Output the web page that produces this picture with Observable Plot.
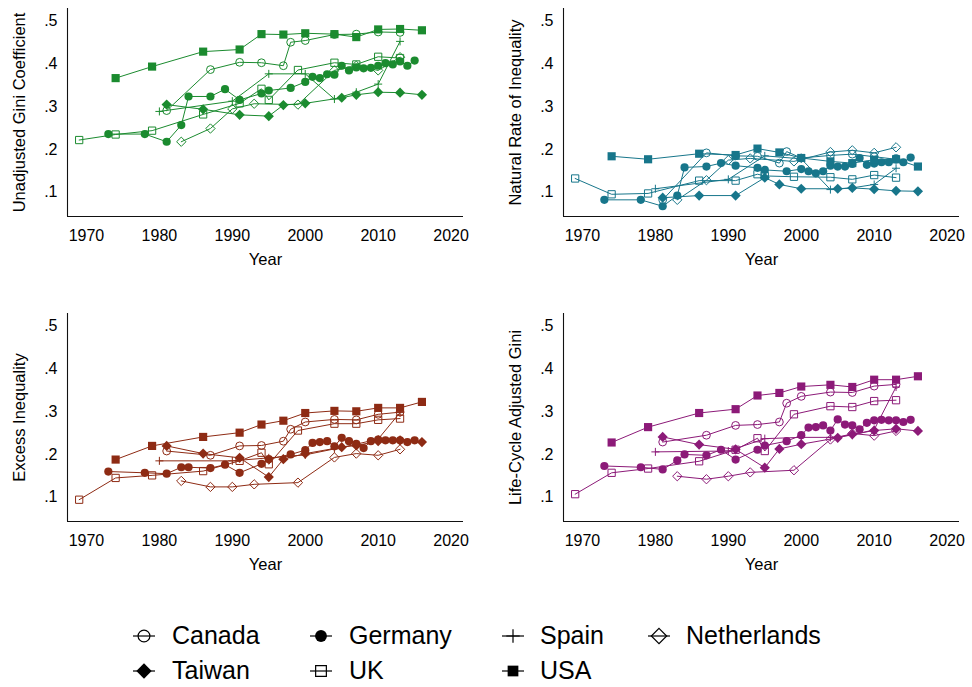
<!DOCTYPE html>
<html>
<head>
<meta charset="utf-8">
<script src="https://cdn.jsdelivr.net/npm/d3@7"></script>
<script src="https://cdn.jsdelivr.net/npm/@observablehq/plot@0.6"></script>
<style>
  body { margin: 0; background: #fff; }
  #root { position: relative; width: 972px; height: 687px; overflow: hidden;
          font-family: "Liberation Sans", Arial, Helvetica, sans-serif; color: #000; }
  .panel { position: absolute; }
  .legend-sym { position: absolute; }
  .legend-txt { position: absolute; font-size: 25px; line-height: 25px; white-space: nowrap; }
</style>
</head>
<body>
<div id="root"></div>
<script>
// ---------------- Data ----------------
const countries = ["Canada", "Germany", "Spain", "Netherlands", "Taiwan", "UK", "USA"];

const yearsCanada = [1981, 1987, 1991, 1994, 1997, 1998, 2000, 2004, 2007, 2010, 2013];
const giniCanada = [0.291, 0.387, 0.404, 0.403, 0.396, 0.451, 0.455, 0.469, 0.470, 0.475, 0.474];
const naturalCanada = [0.082, 0.192, 0.185, 0.184, 0.168, 0.195, 0.180, 0.186, 0.189, 0.183, 0.177];
const excessCanada = [0.208, 0.198, 0.220, 0.221, 0.231, 0.259, 0.276, 0.282, 0.281, 0.294, 0.299];
const lifecycleCanada = [0.229, 0.245, 0.268, 0.270, 0.276, 0.320, 0.336, 0.346, 0.345, 0.360, 0.364];

const yearsGermany = [1973, 1978, 1981, 1983, 1984, 1987, 1989, 1991, 1994, 1995, 1998, 2000, 2001, 2002, 2003,
  2004, 2005, 2006, 2007, 2008, 2009, 2010, 2011, 2012, 2013, 2014, 2015];
const giniGermany = [0.236, 0.236, 0.218, 0.257, 0.324, 0.324, 0.341, 0.316, 0.331, 0.338, 0.344, 0.358, 0.370, 0.367, 0.376,
  0.375, 0.396, 0.385, 0.392, 0.390, 0.391, 0.396, 0.402, 0.399, 0.406, 0.396, 0.408];
const naturalGermany = [0.082, 0.082, 0.067, 0.092, 0.158, 0.160, 0.168, 0.162, 0.157, 0.152, 0.149, 0.154, 0.149, 0.144, 0.149,
  0.162, 0.160, 0.160, 0.166, 0.180, 0.164, 0.167, 0.170, 0.170, 0.179, 0.170, 0.181];
const excessGermany = [0.160, 0.157, 0.155, 0.170, 0.170, 0.168, 0.176, 0.157, 0.178, 0.189, 0.200, 0.210, 0.227, 0.229, 0.231,
  0.219, 0.239, 0.231, 0.225, 0.215, 0.231, 0.235, 0.233, 0.233, 0.233, 0.229, 0.233];
const lifecycleGermany = [0.173, 0.170, 0.165, 0.186, 0.200, 0.198, 0.211, 0.188, 0.211, 0.221, 0.231, 0.245, 0.263, 0.264, 0.268,
  0.256, 0.282, 0.270, 0.268, 0.259, 0.274, 0.280, 0.281, 0.280, 0.280, 0.276, 0.281];

const yearsSpain = [1980, 1990, 1995, 2000, 2004, 2007, 2010, 2013];
const giniSpain = [0.289, 0.313, 0.377, 0.377, 0.318, 0.334, 0.353, 0.453];
const naturalSpain = [0.108, 0.130, 0.185, 0.178, 0.106, 0.110, 0.118, 0.156];
const excessSpain = [0.185, 0.185, 0.192, 0.199, 0.213, 0.224, 0.236, 0.298];
const lifecycleSpain = [0.206, 0.208, 0.237, 0.240, 0.240, 0.245, 0.258, 0.358];

const yearsNetherlands = [1983, 1987, 1990, 1993, 1999, 2004, 2007, 2010, 2013];
const giniNetherlands = [0.218, 0.249, 0.295, 0.307, 0.305, 0.385, 0.396, 0.385, 0.416];
const naturalNetherlands = [0.082, 0.128, 0.175, 0.179, 0.172, 0.194, 0.198, 0.192, 0.205];
const excessNetherlands = [0.138, 0.124, 0.124, 0.130, 0.134, 0.193, 0.202, 0.198, 0.212];
const lifecycleNetherlands = [0.149, 0.142, 0.149, 0.158, 0.163, 0.235, 0.249, 0.244, 0.255];

const yearsTaiwan = [1981, 1986, 1991, 1995, 1997, 2000, 2005, 2007, 2010, 2013, 2016];
const giniTaiwan = [0.305, 0.294, 0.281, 0.278, 0.304, 0.308, 0.321, 0.328, 0.334, 0.333, 0.328];
const naturalTaiwan = [0.087, 0.092, 0.092, 0.134, 0.118, 0.108, 0.108, 0.110, 0.107, 0.103, 0.102];
const excessTaiwan = [0.220, 0.202, 0.192, 0.147, 0.189, 0.202, 0.217, 0.221, 0.231, 0.233, 0.229];
const lifecycleTaiwan = [0.241, 0.223, 0.212, 0.169, 0.213, 0.224, 0.239, 0.247, 0.256, 0.260, 0.255];

const yearsUK = [1969, 1974, 1979, 1986, 1991, 1994, 1995, 1999, 2004, 2007, 2010, 2013];
const giniUK = [0.222, 0.235, 0.244, 0.282, 0.308, 0.342, 0.316, 0.386, 0.403, 0.399, 0.417, 0.414];
const naturalUK = [0.132, 0.095, 0.097, 0.127, 0.127, 0.142, 0.138, 0.136, 0.135, 0.130, 0.140, 0.134];
const excessUK = [0.094, 0.145, 0.151, 0.161, 0.185, 0.204, 0.177, 0.256, 0.272, 0.272, 0.281, 0.284];
const lifecycleUK = [0.107, 0.157, 0.167, 0.184, 0.211, 0.238, 0.208, 0.294, 0.313, 0.311, 0.325, 0.327];

const yearsUSA = [1974, 1979, 1986, 1991, 1994, 1997, 2000, 2004, 2007, 2010, 2013, 2016];
const giniUSA = [0.367, 0.394, 0.429, 0.434, 0.470, 0.469, 0.472, 0.470, 0.463, 0.481, 0.482, 0.479];
const naturalUSA = [0.184, 0.177, 0.190, 0.187, 0.202, 0.193, 0.180, 0.172, 0.168, 0.176, 0.177, 0.160];
const excessUSA = [0.188, 0.220, 0.241, 0.251, 0.270, 0.279, 0.297, 0.302, 0.301, 0.309, 0.309, 0.323];
const lifecycleUSA = [0.228, 0.264, 0.297, 0.306, 0.338, 0.344, 0.359, 0.363, 0.358, 0.375, 0.375, 0.383];

const xTicks = [1970, 1980, 1990, 2000, 2010, 2020];
const yTicks = [0.1, 0.2, 0.3, 0.4, 0.5];
const panelTitles = ["Unadjusted Gini Coefficient", "Natural Rate of Inequality", "Excess Inequality", "Life-Cycle Adjusted Gini"];
const xTitle = "Year";

// ---------------- Build tables ----------------
const series = {
  Canada: {years: yearsCanada, gini: giniCanada, natural: naturalCanada, excess: excessCanada, lifecycle: lifecycleCanada},
  Germany: {years: yearsGermany, gini: giniGermany, natural: naturalGermany, excess: excessGermany, lifecycle: lifecycleGermany},
  Spain: {years: yearsSpain, gini: giniSpain, natural: naturalSpain, excess: excessSpain, lifecycle: lifecycleSpain},
  Netherlands: {years: yearsNetherlands, gini: giniNetherlands, natural: naturalNetherlands, excess: excessNetherlands, lifecycle: lifecycleNetherlands},
  Taiwan: {years: yearsTaiwan, gini: giniTaiwan, natural: naturalTaiwan, excess: excessTaiwan, lifecycle: lifecycleTaiwan},
  UK: {years: yearsUK, gini: giniUK, natural: naturalUK, excess: excessUK, lifecycle: lifecycleUK},
  USA: {years: yearsUSA, gini: giniUSA, natural: naturalUSA, excess: excessUSA, lifecycle: lifecycleUSA}
};

function rows(country, key) {
  const s = series[country];
  return s.years.map((year, i) => ({country, year, value: s[key][i]}));
}

// marker styles
const markers = {
  Canada:      {symbol: "circle",   filled: false, r: 3.9, legendSize: 110},
  Germany:     {symbol: "circle",   filled: true,  r: 4.1, legendSize: 110},
  Spain:       {symbol: "plus",     filled: false, r: 2.7, legendSize: 60},
  Netherlands: {symbol: "diamond2", filled: false, r: 4.2, legendSize: 150},
  Taiwan:      {symbol: "diamond2", filled: true,  r: 4.6, legendSize: 150},
  UK:          {symbol: "square",   filled: false, r: 4.1, legendSize: 115},
  USA:         {symbol: "square",   filled: true,  r: 4.6, legendSize: 115}
};

const xDomain = [1967.4, 2021.7];
const yDomain = [0.043, 0.53];

const panels = [
  {key: "gini",      title: panelTitles[0], color: "#1b8b2f", left: 0,   top: 0,   width: 486},
  {key: "natural",   title: panelTitles[1], color: "#17768b", left: 496, top: 0,   width: 476},
  {key: "excess",    title: panelTitles[2], color: "#8e2b14", left: 0,   top: 305, width: 486},
  {key: "lifecycle", title: panelTitles[3], color: "#8c1a78", left: 496, top: 305, width: 476}
];

const root = document.getElementById("root");

for (const p of panels) {
  const marks = [
    Plot.ruleX([xDomain[0]], {stroke: "#111", strokeWidth: 1.1}),
    Plot.ruleY([yDomain[0]], {stroke: "#111", strokeWidth: 1.1}),
    Plot.axisX({ticks: xTicks, tickSize: 0, tickPadding: 13, tickFormat: d3.format("d"), label: null}),
    Plot.axisY({ticks: yTicks, tickSize: 0, tickPadding: 10, tickFormat: d => d.toFixed(1).replace(/^0/, ""), label: null})
  ];
  for (const c of countries) {
    const data = rows(c, p.key);
    const m = markers[c];
    marks.push(Plot.line(data, {x: "year", y: "value", stroke: p.color, strokeWidth: 1}));
    marks.push(Plot.dot(data, {
      x: "year", y: "value", symbol: m.symbol, r: m.r,
      fill: m.filled ? p.color : "none",
      stroke: m.filled ? "none" : p.color,
      strokeWidth: 1
    }));
  }
  marks.push(Plot.text([p.title], {frameAnchor: "left", textAnchor: "middle", lineAnchor: "middle",
    rotate: -90, dx: -48, fontSize: 16.5, fill: "#000"}));
  marks.push(Plot.text([xTitle], {frameAnchor: "bottom", textAnchor: "middle", lineAnchor: "middle",
    dy: 43, fontSize: 16.5, fill: "#000"}));

  const svg = Plot.plot({
    width: p.width,
    height: 290,
    marginLeft: 67,
    marginRight: p.width - 463,
    marginTop: 8,
    marginBottom: 74,
    x: {domain: xDomain},
    y: {domain: yDomain},
    style: {fontFamily: '"Liberation Sans", Arial, Helvetica, sans-serif', fontSize: "16px", color: "#000", background: "transparent", overflow: "visible"},
    marks
  });
  const div = document.createElement("div");
  div.className = "panel";
  div.style.left = p.left + "px";
  div.style.top = p.top + "px";
  div.appendChild(svg);
  root.appendChild(div);
}

// ---------------- Legend ----------------
const legendLayout = [
  {c: "Canada", col: 0, row: 0}, {c: "Germany", col: 1, row: 0}, {c: "Spain", col: 2, row: 0}, {c: "Netherlands", col: 3, row: 0},
  {c: "Taiwan", col: 0, row: 1}, {c: "UK", col: 1, row: 1}, {c: "USA", col: 2, row: 1}
];
const colSym = [144, 321, 513, 659];
const colTxt = [172, 349, 540, 686];
const rowY = [636, 671];
const d3Sym = {circle: d3.symbolCircle, plus: d3.symbolPlus, diamond2: d3.symbolDiamond2, square: d3.symbolSquare};

for (const item of legendLayout) {
  const m = markers[item.c];
  const ns = "http://www.w3.org/2000/svg";
  const svg = document.createElementNS(ns, "svg");
  svg.setAttribute("width", 40);
  svg.setAttribute("height", 30);
  svg.setAttribute("class", "legend-sym");
  svg.style.left = (colSym[item.col] - 20) + "px";
  svg.style.top = (rowY[item.row] - 15) + "px";
  const line = document.createElementNS(ns, "line");
  line.setAttribute("x1", 9); line.setAttribute("x2", 31);
  line.setAttribute("y1", 15); line.setAttribute("y2", 15);
  line.setAttribute("stroke", "#000"); line.setAttribute("stroke-width", 1.2);
  svg.appendChild(line);
  const path = document.createElementNS(ns, "path");
  path.setAttribute("d", d3.symbol(d3Sym[m.symbol], m.legendSize)());
  path.setAttribute("transform", "translate(20,15)");
  path.setAttribute("fill", m.filled ? "#000" : "none");
  path.setAttribute("stroke", m.filled ? "none" : "#000");
  path.setAttribute("stroke-width", 1.2);
  svg.appendChild(path);
  root.appendChild(svg);

  const t = document.createElement("div");
  t.className = "legend-txt";
  t.textContent = item.c;
  t.style.left = colTxt[item.col] + "px";
  t.style.top = (rowY[item.row] - 13) + "px";
  root.appendChild(t);
}
</script>
</body>
</html>
